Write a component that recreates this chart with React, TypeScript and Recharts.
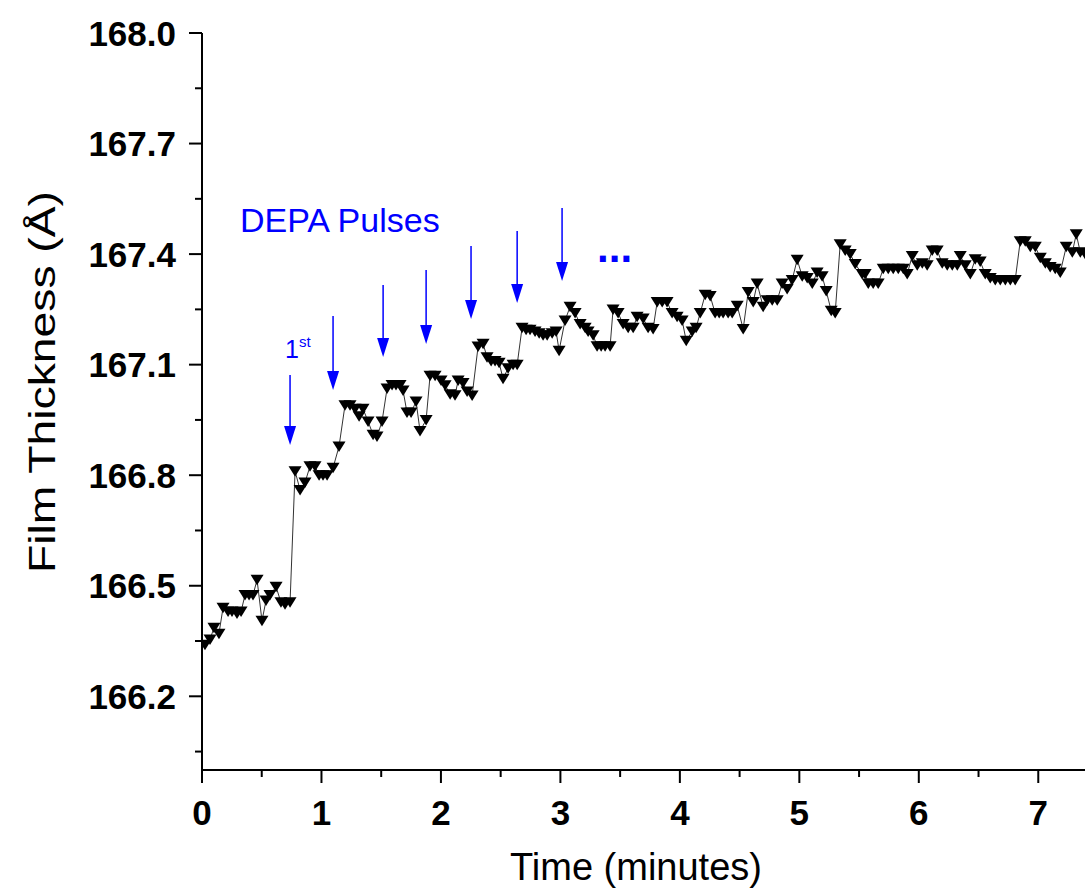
import {
  ComposedChart,
  Line,
  XAxis,
  YAxis,
  Label,
  ReferenceLine,
  ReferenceDot,
} from 'recharts';

// Film thickness during DEPA pulsing
const timeMin = [
  0.025, 0.067, 0.1, 0.142, 0.176, 0.218, 0.251, 0.293, 0.327, 0.36,
  0.394, 0.427, 0.461, 0.502, 0.536, 0.569, 0.62, 0.661, 0.695, 0.737,
  0.779, 0.821, 0.862, 0.904, 0.946, 0.98, 1.013, 1.047, 1.097, 1.147,
  1.197, 1.239, 1.281, 1.315, 1.348, 1.39, 1.432, 1.465, 1.507, 1.549,
  1.591, 1.624, 1.658, 1.683, 1.716, 1.75, 1.792, 1.825, 1.876, 1.909,
  1.951, 2.001, 2.035, 2.077, 2.118, 2.144, 2.185, 2.219, 2.261, 2.311,
  2.353, 2.386, 2.42, 2.453, 2.487, 2.52, 2.562, 2.604, 2.638, 2.679,
  2.713, 2.746, 2.788, 2.822, 2.855, 2.889, 2.931, 2.964, 2.989, 3.039,
  3.081, 3.123, 3.165, 3.207, 3.232, 3.274, 3.307, 3.341, 3.374, 3.416,
  3.441, 3.483, 3.525, 3.567, 3.609, 3.642, 3.693, 3.734, 3.776, 3.81,
  3.852, 3.893, 3.935, 3.977, 4.019, 4.053, 4.103, 4.136, 4.17, 4.212,
  4.254, 4.295, 4.329, 4.362, 4.404, 4.438, 4.48, 4.53, 4.572, 4.614,
  4.647, 4.697, 4.731, 4.773, 4.815, 4.856, 4.898, 4.94, 4.982, 5.024,
  5.066, 5.108, 5.149, 5.191, 5.225, 5.267, 5.3, 5.342, 5.384, 5.426,
  5.468, 5.526, 5.551, 5.577, 5.618, 5.66, 5.702, 5.744, 5.786, 5.828,
  5.87, 5.903, 5.945, 5.987, 6.029, 6.07, 6.112, 6.154, 6.196, 6.238,
  6.28, 6.322, 6.347, 6.389, 6.431, 6.472, 6.514, 6.556, 6.598, 6.64,
  6.682, 6.724, 6.766, 6.807, 6.849, 6.891, 6.933, 6.975, 7.017, 7.059,
  7.1, 7.142, 7.184, 7.234, 7.285, 7.318, 7.352, 7.393,
];

const thicknessA = [
  166.34, 166.354, 166.386, 166.37, 166.44, 166.43, 166.43, 166.425, 166.43, 166.475,
  166.475, 166.475, 166.516, 166.405, 166.46, 166.475, 166.497, 166.455, 166.45, 166.455,
  166.811, 166.76, 166.78, 166.824, 166.824, 166.8, 166.8, 166.8, 166.82, 166.878,
  166.99, 166.99, 166.98, 166.96, 166.98, 166.946, 166.91, 166.905, 166.946, 167.035,
  167.045, 167.045, 167.045, 167.03, 166.97, 166.97, 167.0, 166.92, 166.95, 167.07,
  167.07, 167.057, 167.044, 167.02, 167.017, 167.057, 167.05, 167.027, 167.016, 167.149,
  167.157, 167.12, 167.11, 167.11, 167.105, 167.062, 167.09, 167.1, 167.1, 167.2,
  167.195, 167.195, 167.19, 167.185, 167.18, 167.18, 167.185, 167.19, 167.138, 167.22,
  167.257, 167.24, 167.21, 167.2, 167.19, 167.18, 167.15, 167.15, 167.15, 167.15,
  167.25, 167.24, 167.21, 167.2, 167.2, 167.23, 167.225, 167.2, 167.197, 167.27,
  167.27, 167.27, 167.24, 167.23, 167.22, 167.165, 167.19, 167.2, 167.24, 167.29,
  167.286, 167.24, 167.24, 167.24, 167.24, 167.24, 167.26, 167.197, 167.297, 167.27,
  167.32, 167.257, 167.275, 167.275, 167.275, 167.32, 167.305, 167.33, 167.385, 167.34,
  167.335, 167.32, 167.35, 167.34, 167.3, 167.246, 167.24, 167.427, 167.41, 167.4,
  167.373, 167.346, 167.346, 167.32, 167.32, 167.32, 167.36, 167.36, 167.36, 167.36,
  167.36, 167.346, 167.395, 167.37, 167.375, 167.37, 167.41, 167.41, 167.375, 167.37,
  167.37, 167.37, 167.395, 167.37, 167.346, 167.386, 167.38, 167.346, 167.335, 167.33,
  167.33, 167.33, 167.33, 167.33, 167.435, 167.435, 167.42, 167.42, 167.39, 167.375,
  167.365, 167.36, 167.35, 167.42, 167.405, 167.454, 167.405, 167.4,
];

// pulse arrows: time, top of shaft, arrow tip (in data units)
const pulseTimes = [0.737, 1.097, 1.516, 1.876, 2.252, 2.638, 3.014];
const pulseTops = [167.072, 167.232, 167.316, 167.357, 167.422, 167.463, 167.525];
const pulseTips = [166.882, 167.031, 167.121, 167.156, 167.224, 167.267, 167.327];

const xMajorTicks = [0, 1, 2, 3, 4, 5, 6, 7];
const xMinorTicks = [0.5, 1.5, 2.5, 3.5, 4.5, 5.5, 6.5];
const yMajorTicks = [166.2, 166.5, 166.8, 167.1, 167.4, 167.7, 168.0];
const yMinorTicks = [166.05, 166.35, 166.65, 166.95, 167.25, 167.55, 167.85];

const FONT = '"Liberation Sans", Arial, Helvetica, sans-serif';
const BLUE = '#0000ff';

const data = timeMin.map((t, i) => ({ t, v: thicknessA[i] }));
const xTicks = [...xMajorTicks, ...xMinorTicks].sort((a, b) => a - b);
const yTicks = [...yMajorTicks, ...yMinorTicks].sort((a, b) => a - b);

const isMajor = (list: number[], v: number) => list.some((m) => Math.abs(m - v) < 1e-6);

const BottomTick = ({ x, y, payload }: any) => {
  const major = isMajor(xMajorTicks, payload.value);
  return (
    <g>
      <line x1={x} x2={x} y1={y} y2={y + (major ? 13 : 7)} stroke="#000" strokeWidth={2} />
      {major && (
        <text x={x} y={y + 55} textAnchor="middle" fontSize={35} fontWeight="bold" fontFamily={FONT} fill="#000">
          {payload.value}
        </text>
      )}
    </g>
  );
};

const TopTick = ({ x, y, payload }: any) => {
  const major = isMajor(xMajorTicks, payload.value);
  return <line x1={x} x2={x} y1={y} y2={y + (major ? 13 : 7)} stroke="#000" strokeWidth={2} />;
};

const LeftTick = ({ x, y, payload }: any) => {
  const major = isMajor(yMajorTicks, payload.value);
  return (
    <g>
      <line x1={x - (major ? 13 : 7)} x2={x} y1={y} y2={y} stroke="#000" strokeWidth={2} />
      {major && (
        <text x={x - 26} y={y + 12.5} textAnchor="end" fontSize={35} fontWeight="bold" fontFamily={FONT} fill="#000">
          {payload.value.toFixed(1)}
        </text>
      )}
    </g>
  );
};

const RightTick = ({ x, y, payload }: any) => {
  const major = isMajor(yMajorTicks, payload.value);
  return <line x1={x - (major ? 13 : 7)} x2={x} y1={y} y2={y} stroke="#000" strokeWidth={2} />;
};

const DownTriangle = ({ cx, cy }: any) => {
  if (cx == null || cy == null) return null;
  return (
    <polygon
      points={`${cx - 6.5},${cy - 5} ${cx + 6.5},${cy - 5} ${cx},${cy + 5.5}`}
      fill="#000"
    />
  );
};

const Arrow = ({ x1, y1, x2, y2 }: any) => (
  <g>
    <line x1={x1} y1={y1} x2={x2} y2={y2 - 10} stroke={BLUE} strokeWidth={1.5} />
    <polygon points={`${x2 - 6},${y2 - 19} ${x2 + 6},${y2 - 19} ${x2},${y2}`} fill={BLUE} />
  </g>
);

export default function App() {
  return (
    <div style={{ position: 'absolute', left: 0, top: 0, width: 1085, height: 892, overflow: 'hidden', background: '#fff' }}>
      <ComposedChart width={1098} height={892} data={data} margin={{ top: 33, right: 0, bottom: 0, left: 0 }}>
        <XAxis
          xAxisId="b"
          dataKey="t"
          type="number"
          domain={[0, 7.5]}
          ticks={xTicks}
          interval={0}
          height={122}
          tickLine={false}
          tickSize={0}
          tickMargin={0}
          tick={<BottomTick />}
          axisLine={{ stroke: '#000', strokeWidth: 2 }}
          allowDataOverflow
        >
          <Label
            content={() => (
              <text x={636} y={880} textAnchor="middle" fontSize={38} fontFamily={FONT} fill="#000">
                Time (minutes)
              </text>
            )}
          />
        </XAxis>
        <XAxis
          xAxisId="t"
          orientation="top"
          type="number"
          domain={[0, 7.5]}
          ticks={xTicks}
          interval={0}
          height={0}
          tickLine={false}
          tickSize={0}
          tickMargin={0}
          tick={<TopTick />}
          axisLine={{ stroke: '#000', strokeWidth: 2 }}
          allowDataOverflow
        />
        <YAxis
          yAxisId="l"
          type="number"
          domain={[166, 168]}
          ticks={yTicks}
          interval={0}
          width={202}
          tickLine={false}
          tickSize={0}
          tickMargin={0}
          tick={<LeftTick />}
          axisLine={{ stroke: '#000', strokeWidth: 2 }}
          allowDataOverflow
        >
          <Label
            content={() => (
              <text
                transform="translate(55,382) rotate(-90)"
                textAnchor="middle"
                fontSize={36}
                fontFamily={FONT}
                fill="#000"
                textLength={382}
                lengthAdjust="spacingAndGlyphs"
              >
                Film Thickness (Å)
              </text>
            )}
          />
        </YAxis>
        <YAxis
          yAxisId="r"
          orientation="right"
          type="number"
          domain={[166, 168]}
          ticks={yTicks}
          interval={0}
          width={0}
          tickLine={false}
          tickSize={0}
          tickMargin={0}
          tick={<RightTick />}
          axisLine={{ stroke: '#000', strokeWidth: 2 }}
          allowDataOverflow
        />

        <Line
          xAxisId="b"
          yAxisId="l"
          dataKey="v"
          stroke="#333"
          strokeWidth={1}
          dot={(p: any) => <DownTriangle key={p.index} cx={p.cx} cy={p.cy} />}
          activeDot={false}
          isAnimationActive={false}
        />

        {pulseTimes.map((t, i) => (
          <ReferenceLine
            key={`pulse-${i}`}
            xAxisId="b"
            yAxisId="l"
            segment={[
              { x: t, y: pulseTops[i] },
              { x: t, y: pulseTips[i] },
            ]}
            shape={(p: any) => <Arrow {...p} />}
          />
        ))}

        <ReferenceDot
          xAxisId="b"
          yAxisId="l"
          x={0.318}
          y={167.46}
          shape={(p: any) => (
            <text x={p.cx} y={p.cy} fontSize={34} fontFamily={FONT} fill={BLUE}>
              DEPA Pulses
            </text>
          )}
        />
        <ReferenceDot
          xAxisId="b"
          yAxisId="l"
          x={0.695}
          y={167.118}
          shape={(p: any) => (
            <text x={p.cx} y={p.cy} fontSize={25} fontFamily={FONT} fill={BLUE}>
              1<tspan dy={-11} fontSize={15}>st</tspan>
            </text>
          )}
        />
        <ReferenceDot
          xAxisId="b"
          yAxisId="l"
          x={3.307}
          y={167.379}
          shape={(p: any) => (
            <text x={p.cx} y={p.cy} fontSize={42} fontWeight="bold" fontFamily={FONT} fill={BLUE}>
              ...
            </text>
          )}
        />
      </ComposedChart>
    </div>
  );
}
